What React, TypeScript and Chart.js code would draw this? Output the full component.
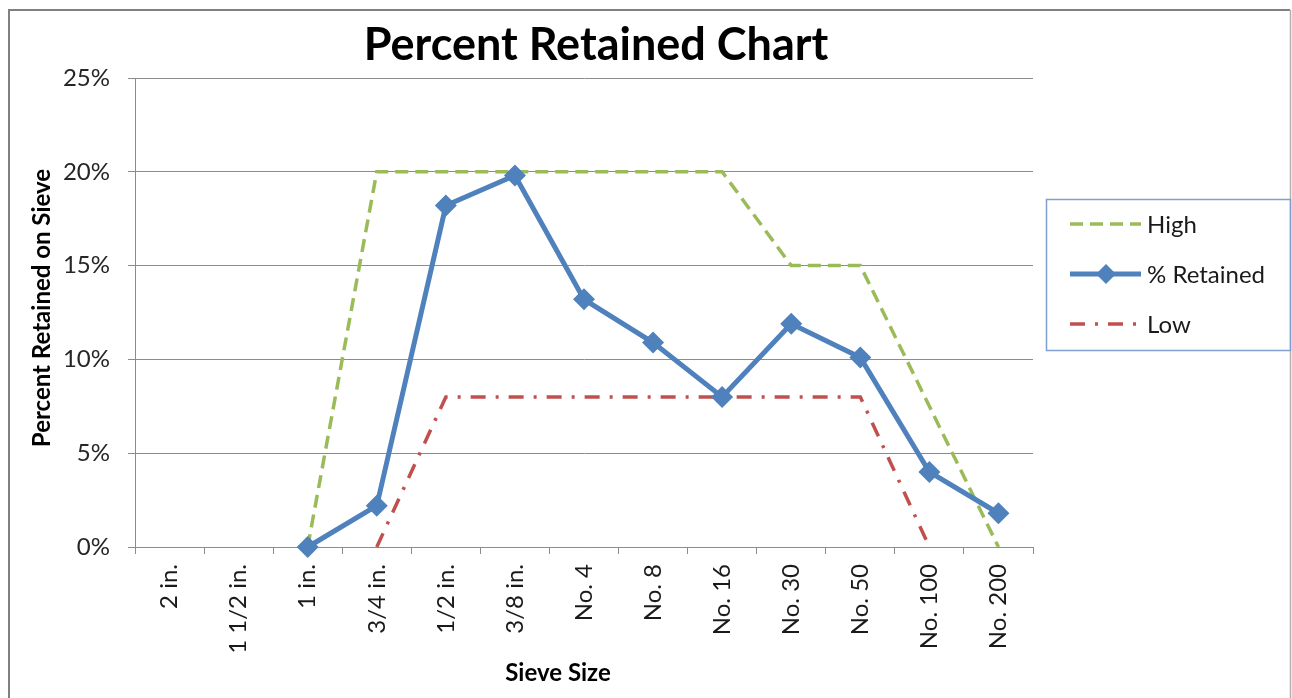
import React, { useEffect, useRef } from "react";
import { Chart, registerables } from "chart.js";

Chart.register(...registerables);

const sieveSizes = ["2 in.", "1 1/2 in.", "1 in.", "3/4 in.", "1/2 in.", "3/8 in.", "No. 4", "No. 8", "No. 16", "No. 30", "No. 50", "No. 100", "No. 200"];
const highValues = [null, null, 0, 20, 20, 20, 20, 20, 20, 15, 15, 7.5, 0];
const retainedValues = [null, null, 0, 2.2, 18.2, 19.8, 13.2, 10.9, 8.0, 11.9, 10.1, 4.0, 1.8];
const lowValues = [null, null, null, 0, 8, 8, 8, 8, 8, 8, 8, 0, null];
const yTicks = [0, 5, 10, 15, 20, 25];

const chartTitle = "Percent Retained Chart";
const xTitle = "Sieve Size";
const yTitle = "Percent Retained on Sieve";

const FONT = "Lato, 'Open Sans', sans-serif";
const GREEN = "#9BBB59";
const BLUE = "#4F81BD";
const RED = "#C0504D";
const GRID = "#8c8c8c";

const decorPlugin = {
  id: "decor",
  beforeDraw(chart: any) {
    const ctx = chart.ctx;
    ctx.save();
    ctx.fillStyle = "#ffffff";
    ctx.fillRect(0, 0, chart.width, chart.height);
    ctx.strokeStyle = "#808080";
    ctx.lineWidth = 2;
    ctx.beginPath();
    ctx.moveTo(9, 760);
    ctx.lineTo(9, 10);
    ctx.lineTo(1290, 10);
    ctx.stroke();
    ctx.strokeStyle = "#b0b0b0";
    ctx.lineWidth = 1.5;
    ctx.beginPath();
    ctx.moveTo(1290.5, 10);
    ctx.lineTo(1290.5, 760);
    ctx.stroke();
    ctx.restore();
  },
  afterDraw(chart: any) {
    const ctx = chart.ctx;
    ctx.save();
    ctx.fillStyle = "#000000";
    ctx.textAlign = "center";
    ctx.textBaseline = "middle";
    ctx.font = `bold 45px ${FONT}`;
    ctx.fillText(chartTitle, 596, 45);
    ctx.font = `bold 24px ${FONT}`;
    ctx.fillText(xTitle, 558, 673);
    ctx.save();
    ctx.translate(42, 308);
    ctx.rotate(-Math.PI / 2);
    ctx.font = `bold 24px ${FONT}`;
    ctx.fillText(yTitle, 0, 0);
    ctx.restore();

    // legend
    ctx.strokeStyle = "#7f9fcf";
    ctx.lineWidth = 1.5;
    ctx.strokeRect(1046.5, 199.5, 244, 151);
    const items = chart.data.datasets;
    const rows = [224, 274, 324];
    ctx.textAlign = "left";
    ctx.font = `24px ${FONT}`;
    items.forEach((ds: any, i: number) => {
      const y = rows[i];
      ctx.save();
      ctx.strokeStyle = ds.borderColor;
      ctx.lineWidth = ds.borderWidth;
      ctx.setLineDash(ds.borderDash || []);
      ctx.beginPath();
      ctx.moveTo(1070, y);
      ctx.lineTo(1141, y);
      ctx.stroke();
      ctx.restore();
      if (ds.pointStyle === "rectRot" && ds.pointRadius > 0) {
        const r = ds.pointRadius - 1;
        ctx.fillStyle = ds.pointBackgroundColor;
        ctx.beginPath();
        ctx.moveTo(1106, y - r);
        ctx.lineTo(1106 + r, y);
        ctx.lineTo(1106, y + r);
        ctx.lineTo(1106 - r, y);
        ctx.closePath();
        ctx.fill();
      }
      ctx.fillStyle = "#1a1a1a";
      ctx.fillText(ds.label, 1147, y + 1);
    });
    ctx.restore();
  },
};

export default function App() {
  const ref = useRef<HTMLCanvasElement | null>(null);
  useEffect(() => {
    if (!ref.current) return;
    const chart = new Chart(ref.current, {
      type: "line",
      data: {
        labels: sieveSizes,
        datasets: [
          {
            label: "High",
            data: highValues,
            borderColor: GREEN,
            backgroundColor: GREEN,
            borderWidth: 3.5,
            borderDash: [13, 7],
            pointRadius: 0,
            tension: 0,
            order: 1,
            clip: false,
          },
          {
            label: "% Retained",
            data: retainedValues,
            borderColor: BLUE,
            backgroundColor: BLUE,
            pointBackgroundColor: BLUE,
            pointBorderColor: BLUE,
            borderWidth: 5,
            pointStyle: "rectRot",
            pointRadius: 11,
            pointBorderWidth: 0,
            tension: 0,
            order: 0,
            clip: false,
          },
          {
            label: "Low",
            data: lowValues,
            borderColor: RED,
            backgroundColor: RED,
            borderWidth: 3.5,
            borderDash: [15, 10, 3, 10],
            pointRadius: 0,
            tension: 0,
            order: 2,
            clip: false,
          },
        ] as any,
      },
      options: {
        responsive: false,
        animation: false,
        devicePixelRatio: 1,
        layout: { padding: { top: 78, right: 259, bottom: 0, left: 0 } },
        plugins: {
          legend: { display: false },
          title: { display: false },
          tooltip: { enabled: false },
        },
        scales: {
          x: {
            type: "category",
            offset: true,
            afterFit: (s: any) => {
              s.height = 151;
            },
            grid: {
              offset: true,
              drawOnChartArea: false,
              drawTicks: true,
              tickLength: 7,
              color: GRID,
            },
            border: { display: true, color: GRID, width: 1 },
            ticks: {
              autoSkip: false,
              minRotation: 90,
              maxRotation: 90,
              padding: 10,
              color: "#1a1a1a",
              font: { family: FONT, size: 24 },
            },
          },
          y: {
            min: 0,
            max: 25,
            afterFit: (s: any) => {
              s.width = 135;
            },
            afterBuildTicks: (s: any) => {
              s.ticks = yTicks.map((v) => ({ value: v }));
            },
            grid: { color: GRID, tickLength: 7, drawTicks: true },
            border: { display: true, color: GRID, width: 1 },
            ticks: {
              padding: 18,
              color: "#262626",
              font: { family: FONT, size: 24 },
              callback: (v: any) => `${v}%`,
            },
          },
        },
      },
      plugins: [decorPlugin],
    });
    return () => chart.destroy();
  }, []);
  return (
    <canvas
      ref={ref}
      width={1292}
      height={698}
      style={{ position: "fixed", left: 0, top: 0, width: 1292, height: 698 }}
    />
  );
}
